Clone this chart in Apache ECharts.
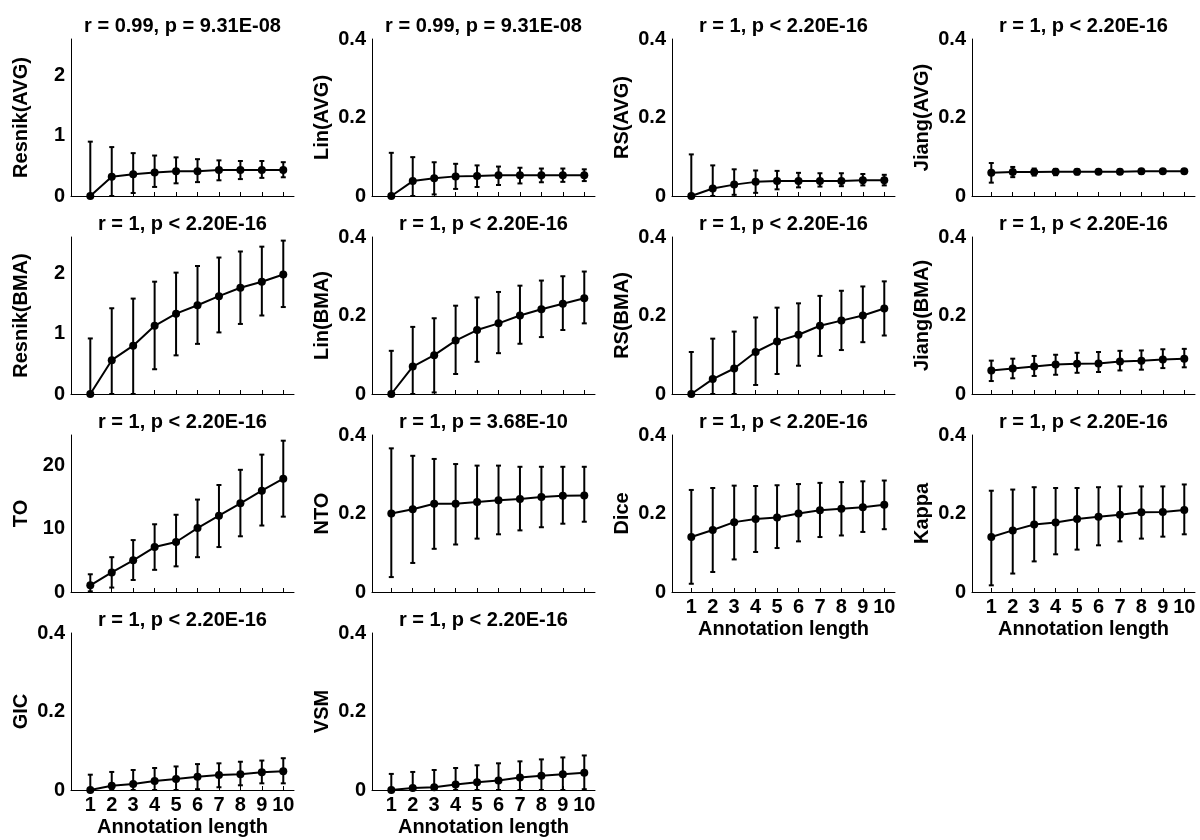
<!DOCTYPE html>
<html><head><meta charset="utf-8">
<script src="https://cdn.jsdelivr.net/npm/echarts@6/dist/echarts.min.js"></script>
<style>html,body{margin:0;padding:0;background:#fff}#c{width:1200px;height:840px}</style>
</head><body><div id="c"></div>
<script>
// ---------- data ----------
const lengths = [1,2,3,4,5,6,7,8,9,10];

const resnikAvgMean = [0,0.32,0.36,0.39,0.41,0.41,0.43,0.43,0.43,0.43];
const resnikAvgLow  = [0,0,0.05,0.15,0.21,0.23,0.26,0.28,0.30,0.31];
const resnikAvgHigh = [0.90,0.81,0.71,0.67,0.64,0.61,0.59,0.58,0.58,0.56];

const linAvgMean = [0,0.038,0.045,0.050,0.051,0.053,0.053,0.053,0.053,0.053];
const linAvgLow  = [0,0,0.004,0.018,0.023,0.028,0.032,0.035,0.036,0.038];
const linAvgHigh = [0.110,0.099,0.086,0.082,0.078,0.075,0.072,0.070,0.070,0.068];

const rsAvgMean = [0,0.019,0.029,0.036,0.038,0.038,0.038,0.038,0.040,0.040];
const rsAvgLow  = [0,0,0.003,0.008,0.017,0.022,0.024,0.025,0.027,0.027];
const rsAvgHigh = [0.106,0.078,0.068,0.065,0.064,0.059,0.058,0.058,0.056,0.054];

const jiangAvgMean = [0.059,0.061,0.061,0.062,0.062,0.062,0.062,0.063,0.063,0.063];
const jiangAvgLow  = [0.034,0.048,0.052,0.053,0.055,0.056,0.056,0.057,0.058,0.058];
const jiangAvgHigh = [0.084,0.074,0.070,0.069,0.068,0.067,0.067,0.067,0.067,0.067];

const resnikBmaMean = [0,0.56,0.80,1.13,1.33,1.47,1.62,1.76,1.86,1.98];
const resnikBmaLow  = [0,0,0,0.41,0.64,0.83,1.02,1.16,1.30,1.44];
const resnikBmaHigh = [0.92,1.42,1.58,1.86,2.01,2.12,2.26,2.36,2.44,2.54];

const linBmaMean = [0,0.070,0.099,0.136,0.163,0.180,0.200,0.216,0.230,0.244];
const linBmaLow  = [0,0,0.004,0.051,0.082,0.104,0.128,0.145,0.163,0.180];
const linBmaHigh = [0.110,0.171,0.193,0.225,0.246,0.260,0.276,0.289,0.300,0.312];

const rsBmaMean = [0,0.038,0.065,0.107,0.134,0.151,0.174,0.187,0.200,0.218];
const rsBmaLow  = [0,0,0,0.023,0.051,0.072,0.097,0.112,0.132,0.149];
const rsBmaHigh = [0.107,0.141,0.159,0.195,0.220,0.231,0.250,0.263,0.274,0.287];

const jiangBmaMean = [0.060,0.065,0.070,0.075,0.077,0.078,0.083,0.085,0.088,0.090];
const jiangBmaLow  = [0.033,0.040,0.046,0.049,0.054,0.056,0.060,0.062,0.066,0.068];
const jiangBmaHigh = [0.085,0.090,0.097,0.100,0.105,0.107,0.110,0.111,0.114,0.115];

const toMean = [1.05,3.1,5.0,7.1,7.9,10.1,12.05,14.0,16.0,17.9];
const toLow  = [0.1,0.7,1.9,3.5,4.05,5.5,7.1,8.8,10.5,11.9];
const toHigh = [2.8,5.5,8.2,10.7,12.2,14.6,16.9,19.3,21.7,23.9];

const ntoMean = [0.200,0.211,0.225,0.225,0.229,0.234,0.237,0.242,0.245,0.246];
const ntoLow  = [0.038,0.074,0.110,0.121,0.136,0.147,0.157,0.165,0.174,0.179];
const ntoHigh = [0.366,0.347,0.339,0.326,0.322,0.322,0.319,0.319,0.319,0.319];

const diceMean = [0.140,0.158,0.178,0.186,0.190,0.200,0.208,0.212,0.216,0.222];
const diceLow  = [0.021,0.051,0.083,0.102,0.112,0.129,0.140,0.144,0.153,0.160];
const diceHigh = [0.260,0.265,0.271,0.270,0.272,0.275,0.278,0.280,0.282,0.284];

const kappaMean = [0.140,0.157,0.172,0.177,0.186,0.192,0.197,0.203,0.204,0.209];
const kappaLow  = [0.017,0.047,0.078,0.096,0.108,0.119,0.129,0.136,0.141,0.147];
const kappaHigh = [0.258,0.261,0.267,0.265,0.265,0.267,0.269,0.269,0.269,0.274];

const gicMean = [0,0.011,0.015,0.023,0.028,0.034,0.038,0.040,0.045,0.048];
const gicLow  = [0,0,0,0,0,0.002,0.007,0.012,0.017,0.017];
const gicHigh = [0.039,0.046,0.051,0.056,0.060,0.066,0.068,0.072,0.075,0.081];

const vsmMean = [0,0.005,0.007,0.014,0.020,0.024,0.032,0.036,0.040,0.044];
const vsmLow  = [0,0,0,0,0,0,0,0,0,0.002];
const vsmHigh = [0.041,0.046,0.051,0.056,0.063,0.068,0.073,0.078,0.083,0.088];

const panelNames = ['Resnik(AVG)','Lin(AVG)','RS(AVG)','Jiang(AVG)',
  'Resnik(BMA)','Lin(BMA)','RS(BMA)','Jiang(BMA)',
  'TO','NTO','Dice','Kappa','GIC','VSM'];
const panelTitles = ['r = 0.99, p = 9.31E-08','r = 0.99, p = 9.31E-08','r = 1, p < 2.20E-16','r = 1, p < 2.20E-16',
  'r = 1, p < 2.20E-16','r = 1, p < 2.20E-16','r = 1, p < 2.20E-16','r = 1, p < 2.20E-16',
  'r = 1, p < 2.20E-16','r = 1, p = 3.68E-10','r = 1, p < 2.20E-16','r = 1, p < 2.20E-16',
  'r = 1, p < 2.20E-16','r = 1, p < 2.20E-16'];
const panelMeans = [resnikAvgMean,linAvgMean,rsAvgMean,jiangAvgMean,resnikBmaMean,linBmaMean,rsBmaMean,jiangBmaMean,toMean,ntoMean,diceMean,kappaMean,gicMean,vsmMean];
const panelLows  = [resnikAvgLow,linAvgLow,rsAvgLow,jiangAvgLow,resnikBmaLow,linBmaLow,rsBmaLow,jiangBmaLow,toLow,ntoLow,diceLow,kappaLow,gicLow,vsmLow];
const panelHighs = [resnikAvgHigh,linAvgHigh,rsAvgHigh,jiangAvgHigh,resnikBmaHigh,linBmaHigh,rsBmaHigh,jiangBmaHigh,toHigh,ntoHigh,diceHigh,kappaHigh,gicHigh,vsmHigh];
const yMaxes = [2.6,0.4,0.4,0.4, 2.6,0.4,0.4,0.4, 24.8,0.4,0.4,0.4, 0.4,0.4];
const yTickSteps = [1,0.2,0.2,0.2, 1,0.2,0.2,0.2, 10,0.2,0.2,0.2, 0.2,0.2];
const xAxisTitle = 'Annotation length';
const labeledX = [10,11,12,13];

// ---------- layout ----------
const FONT = "'Liberation Sans', Arial, sans-serif";
const colLeft = [71, 372, 672, 972];
const rowTop = [39, 237, 435, 633];
const W = 223, H = 157;

const grids = [], xAxes = [], yAxes = [], series = [], graphics = [];
panelNames.forEach((name, i) => {
  const r = Math.floor(i / 4), c = i % 4;
  const left = colLeft[c], top = rowTop[r];
  grids.push({left: left, top: top, width: W, height: H});
  const showX = labeledX.indexOf(i) >= 0;
  xAxes.push({
    type: 'value', gridIndex: i, min: 0.1, max: 10.5,
    axisLine: {show: true, onZero: false, lineStyle: {color: '#000', width: 1}},
    axisTick: {show: true, inside: true, length: 4, customValues: lengths, lineStyle: {color: '#000', width: 1}},
    axisLabel: {show: showX, customValues: lengths, margin: 5, color: '#000', fontSize: 20, fontWeight: 'bold', fontFamily: FONT},
    splitLine: {show: false},
    name: showX ? xAxisTitle : '', nameLocation: 'middle', nameGap: 27,
    nameTextStyle: {color: '#000', fontSize: 20, fontWeight: 'bold', fontFamily: FONT}
  });
  const step = yTickSteps[i];
  yAxes.push({
    type: 'value', gridIndex: i, min: 0, max: yMaxes[i], interval: step,
    axisLine: {show: true, lineStyle: {color: '#000', width: 1}},
    axisTick: {show: false},
    axisLabel: {margin: 6, color: '#000', fontSize: 20, fontWeight: 'bold', fontFamily: FONT,
      formatter: v => { const k = Math.round(v / step); return Math.abs(v - k * step) < 1e-6 ? String(+(k * step).toFixed(3)) : ''; }},
    splitLine: {show: false},
    name: name, nameLocation: 'middle', nameGap: 40,
    nameTextStyle: {color: '#000', fontSize: 20, fontWeight: 'bold', fontFamily: FONT}
  });
  const means = panelMeans[i], lows = panelLows[i], highs = panelHighs[i];
  series.push({
    type: 'custom', xAxisIndex: i, yAxisIndex: i, z: 2,
    data: lengths.map((x, k) => [x, lows[k], highs[k]]),
    encode: {x: 0, y: [1, 2]},
    renderItem: (params, api) => {
      const x = api.value(0);
      const p1 = api.coord([x, api.value(1)]);
      const p2 = api.coord([x, api.value(2)]);
      const cw = 2.5;
      const st = {stroke: '#000', lineWidth: 2};
      return {type: 'group', children: [
        {type: 'line', shape: {x1: p1[0], y1: p1[1], x2: p2[0], y2: p2[1]}, style: st},
        {type: 'line', shape: {x1: p1[0] - cw, y1: p1[1], x2: p1[0] + cw, y2: p1[1]}, style: st},
        {type: 'line', shape: {x1: p2[0] - cw, y1: p2[1], x2: p2[0] + cw, y2: p2[1]}, style: st}
      ]};
    }
  });
  series.push({
    type: 'line', xAxisIndex: i, yAxisIndex: i, z: 3,
    data: lengths.map((x, k) => [x, means[k]]),
    symbol: 'circle', symbolSize: 8, showSymbol: true,
    lineStyle: {color: '#000', width: 2}, itemStyle: {color: '#000'}
  });
  graphics.push({
    type: 'text', x: left + W / 2, y: top - 13,
    style: {text: panelTitles[i], textAlign: 'center', textVerticalAlign: 'middle',
      fill: '#000', font: 'bold 20px ' + FONT}
  });
});

const chart = echarts.init(document.getElementById('c'), null, {renderer: 'canvas'});
chart.setOption({
  backgroundColor: '#fff', animation: false,
  grid: grids, xAxis: xAxes, yAxis: yAxes, series: series, graphic: graphics
});
</script></body></html>
